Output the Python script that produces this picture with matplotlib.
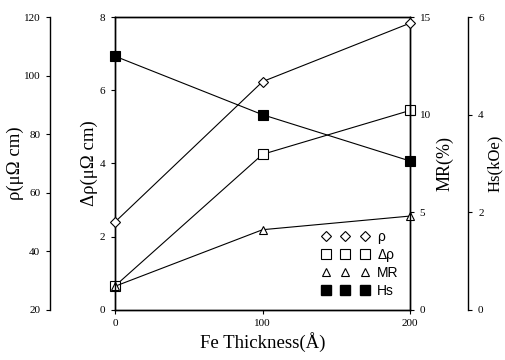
import matplotlib
matplotlib.use("Agg")
import matplotlib.pyplot as plt
from matplotlib.lines import Line2D

# Fe thickness (angstrom)
thickness = [0, 100, 200]
rho = [50, 98, 118]          # uOhm cm
delta_rho = [0.65, 4.25, 5.45]  # uOhm cm
mr = [1.2, 4.1, 4.8]         # %
hs = [5.2, 4.0, 3.05]        # kOe

serif = "Liberation Serif"
sans = "Liberation Sans"
plt.rcParams['font.family'] = serif

fig = plt.figure(figsize=(5.05, 3.6), dpi=100)
ax = fig.add_axes([0.228, 0.14, 0.584, 0.812])

ax_mr = ax.twinx()
ax_rho = ax.twinx()
ax_hs = ax.twinx()

# main axis: delta rho
ax.set_xlim(0, 200)
ax.set_ylim(0, 8)
ax.set_xticks([0, 100, 200])
ax.set_yticks([0, 2, 4, 6, 8])
ax.set_xlabel("Fe Thickness(Å)", fontsize=13.5, labelpad=3)
ax.set_ylabel("Δρ(μΩ cm)", fontsize=13.5, labelpad=1)

# MR on right spine
ax_mr.set_ylim(0, 15)
ax_mr.set_yticks([0, 5, 10, 15])
ax_mr.set_ylabel("MR(%)", fontsize=13, labelpad=4)

# rho on an outer left spine
ax_rho.set_ylim(20, 120)
ax_rho.set_yticks([20, 40, 60, 80, 100, 120])
ax_rho.yaxis.tick_left()
ax_rho.yaxis.set_label_position("left")
ax_rho.spines['left'].set_position(('outward', 47))
for s in ['top', 'right', 'bottom']:
    ax_rho.spines[s].set_visible(False)
ax_rho.set_ylabel("ρ(μΩ cm)", fontsize=13.5, labelpad=0)

# Hs on an outer right spine
ax_hs.set_ylim(0, 6)
ax_hs.set_yticks([0, 2, 4, 6])
ax_hs.spines['right'].set_position(('outward', 42))
for s in ['top', 'left', 'bottom']:
    ax_hs.spines[s].set_visible(False)
ax_hs.set_ylabel("Hs(kOe)", fontsize=12, labelpad=2)

for a in (ax, ax_mr, ax_rho, ax_hs):
    a.tick_params(labelsize=8, length=3, width=0.8, pad=4)
    for sp in a.spines.values():
        sp.set_linewidth(1.0)

kw = dict(color="black", linewidth=0.8, clip_on=False)
ax_rho.plot(thickness, rho, marker="D", markersize=5, markerfacecolor="white",
            markeredgewidth=0.8, **kw)
ax.plot(thickness, delta_rho, marker="s", markersize=7, markerfacecolor="white",
        markeredgewidth=0.8, **kw)
ax_mr.plot(thickness, mr, marker="^", markersize=6, markerfacecolor="white",
           markeredgewidth=0.8, **kw)
ax_hs.plot(thickness, hs, marker="s", markersize=7, markerfacecolor="black",
           markeredgewidth=0.8, **kw)

handles = [
    Line2D([], [], linestyle="none", marker="D", markersize=5, markerfacecolor="white",
           markeredgecolor="black", markeredgewidth=0.8),
    Line2D([], [], linestyle="none", marker="s", markersize=7, markerfacecolor="white",
           markeredgecolor="black", markeredgewidth=0.8),
    Line2D([], [], linestyle="none", marker="^", markersize=6, markerfacecolor="white",
           markeredgecolor="black", markeredgewidth=0.8),
    Line2D([], [], linestyle="none", marker="s", markersize=7, markerfacecolor="black",
           markeredgecolor="black"),
]
ax_hs.legend(handles, ["ρ", "Δρ", "MR", "Hs"], numpoints=3, frameon=False,
             loc="lower right", bbox_to_anchor=(0.99, 0.01), prop={'family': sans, 'size': 10},
             handlelength=3.4, handletextpad=0.6, labelspacing=0.3, borderaxespad=0.2)

fig.savefig("out.png", dpi=100)
